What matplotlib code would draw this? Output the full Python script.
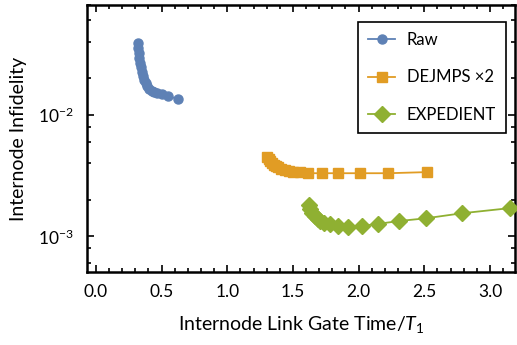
import numpy as np
import matplotlib
matplotlib.use('Agg')
import matplotlib.pyplot as plt
from matplotlib.ticker import LogLocator, MultipleLocator, FormatStrFormatter, NullFormatter

plt.rcParams['font.family'] = ['Lato', 'DejaVu Sans']
plt.rcParams['mathtext.fontset'] = 'custom'
plt.rcParams['mathtext.rm'] = 'Lato'
plt.rcParams['mathtext.it'] = 'Lato:italic'

# data
raw_t = [0.322, 0.324, 0.327, 0.331, 0.335, 0.340, 0.348, 0.356, 0.366, 0.378,
         0.391, 0.407, 0.424, 0.442, 0.462, 0.50, 0.551, 0.627]
raw_f = [0.0389, 0.0355, 0.0322, 0.0293, 0.0267, 0.0246, 0.0227, 0.0210, 0.0194, 0.0182,
         0.0171, 0.0164, 0.0158, 0.0154, 0.0151, 0.0148, 0.0142, 0.0135]

dej_t = [1.305, 1.315, 1.326, 1.338, 1.355, 1.372, 1.388, 1.412, 1.439, 1.470,
         1.503, 1.554, 1.617, 1.719, 1.845, 2.011, 2.226, 2.519]
dej_f = [0.00454, 0.00434, 0.00416, 0.00400, 0.00385, 0.00377, 0.00371, 0.00360, 0.00353, 0.00346,
         0.00341, 0.00336, 0.00331, 0.00331, 0.00331, 0.00331, 0.00331, 0.00338]

exp_t = [1.625, 1.630, 1.645, 1.665, 1.690, 1.706, 1.740, 1.782, 1.845, 1.921,
         2.024, 2.150, 2.310, 2.513, 2.785, 3.153]
exp_f = [0.00182, 0.00168, 0.00157, 0.00148, 0.00139, 0.00133, 0.00129, 0.00126, 0.00122, 0.00120,
         0.00122, 0.00127, 0.00134, 0.00141, 0.00155, 0.00171]

BLUE = '#5E81B5'
ORANGE = '#E19C24'
GREEN = '#8FB032'

fig = plt.figure(figsize=(5.17, 3.45), dpi=100)
ax = fig.add_axes([0.1677, 0.2116, 0.8283, 0.7739])

ax.plot(raw_t, raw_f, '-o', color=BLUE, ms=6.5, lw=1.3, label='Raw', clip_on=False, zorder=3)
ax.plot(dej_t, dej_f, '-s', color=ORANGE, ms=7.5, lw=1.3, label='DEJMPS ×2', clip_on=False, zorder=3)
ax.plot(exp_t, exp_f, '-D', color=GREEN, ms=8.2, lw=1.3, label='EXPEDIENT', clip_on=False, zorder=3)

ax.set_yscale('log')
ax.set_xlim(-0.07, 3.19)
ax.set_ylim(5.1e-4, 0.080)

ax.xaxis.set_major_locator(MultipleLocator(0.5))
ax.xaxis.set_minor_locator(MultipleLocator(0.1))
ax.xaxis.set_major_formatter(FormatStrFormatter('%.1f'))
ax.yaxis.set_major_locator(LogLocator(base=10, subs=[1.0]))
ax.yaxis.set_minor_locator(LogLocator(base=10, subs=[2, 4, 6, 8]))
ax.yaxis.set_minor_formatter(NullFormatter())

ax.tick_params(which='both', direction='in', top=True, right=True, width=1.2, labelsize=12.5)
ax.tick_params(which='major', length=5, pad=9)
ax.tick_params(which='minor', length=3)
for s in ax.spines.values():
    s.set_linewidth(1.8)

ax.set_xlabel('Internode Link Gate Time/$T_1$', fontsize=14, labelpad=10)
ax.set_ylabel('Internode Infidelity', fontsize=14, labelpad=8)

leg = ax.legend(loc='upper right', bbox_to_anchor=(0.979, 0.9375), borderaxespad=0,
                fancybox=False, framealpha=1, edgecolor='black', fontsize=12,
                handlelength=1.6, labelspacing=1.3, borderpad=0.6, handletextpad=0.7)
leg.get_frame().set_linewidth(1.2)

fig.savefig('out.png', dpi=100, facecolor='white')
